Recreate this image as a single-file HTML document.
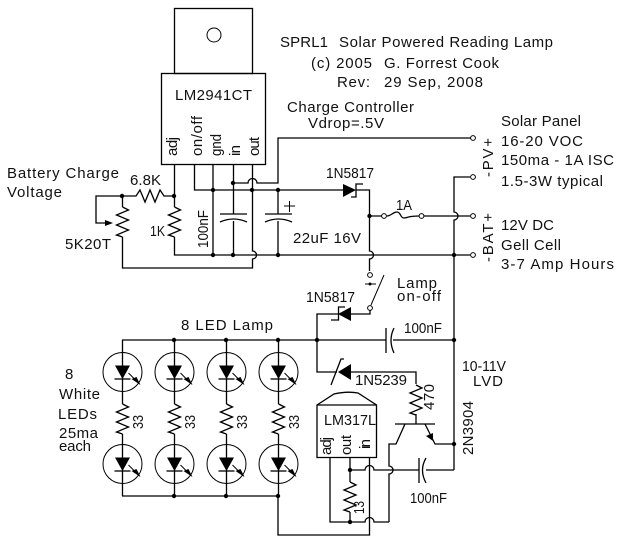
<!DOCTYPE html>
<html><head><meta charset="utf-8"><style>
html,body{margin:0;padding:0;background:#fff}
svg{display:block}
text{font-family:"Liberation Sans",sans-serif;font-size:15px;fill:#111}
.w{fill:none;stroke:#000;stroke-width:1.3}
.n{fill:none;stroke:#000;stroke-width:1}
</style></head><body>
<svg width="623" height="542" viewBox="0 0 623 542" xmlns="http://www.w3.org/2000/svg">
<defs>
<path id="rv" class="w" d="M0 0l6 3l-12 5l12 5l-12 5l12 5l-12 5l6 2"/>
<circle id="d" r="2.2" fill="#000"/>
<circle id="t" r="2.4" fill="#fff" stroke="#000" stroke-width="1"/>
<g id="led">
<circle class="n" r="19.5"/>
<path d="M-7.500 -6.500H7.500L0 7Z" fill="#000"/>
<path class="w" d="M-8 7H8"/>
<path class="n" d="M6 1L17 12"/>
<path d="M9 7L14 5L18 13Z" fill="#000"/>
</g>
</defs>

<!-- LM2941 -->
<rect class="w" x="174.500" y="8.500" width="78" height="65"/>
<circle class="n" cx="214" cy="35" r="7"/>
<rect class="w" x="161.500" y="73.500" width="104" height="91"/>

<!-- charge controller wiring -->
<path class="w" d="M174.500 165V207M174.500 237V255H470"/>
<use href="#rv" x="174.500" y="207"/>
<path class="w" d="M194.500 165V190H343M356 190H369.500V251a4 4 0 0 1 0 8V271"/>
<path class="w" d="M213 165V255"/>
<path class="w" d="M233.500 165V214M233.500 221V255"/>
<path class="w" d="M233 183H248a4.500 4.500 0 0 1 9 0H278V138H471"/>
<path class="w" d="M252.500 165V251a4 4 0 0 1 0 8V268H122.500V237"/>
<path class="w" d="M122.500 196V207"/>
<use href="#rv" x="122.500" y="207"/>
<path class="w" d="M174 196H164l-4 -6l-5 12l-5 -12l-5 12l-5 -12l-4 6H96V223H106"/>
<path d="M105 220L113 223L105 226Z" fill="#000"/>
<path class="w" d="M278 190V214M278 221V255"/>
<!-- caps -->
<path d="M220 214H247" class="w"/><path d="M220 222Q233.500 216 247 222" class="w"/>
<path d="M265 214H292" class="w"/><path d="M265 222Q278.500 216 292 222" class="w"/>
<path class="n" d="M284 206H295M289.500 201V212"/>
<!-- diode -->
<path d="M343 184V197L356 190Z" fill="#000"/>
<path class="w" d="M351 197H356V184H363"/>
<!-- fuse & terminals -->
<path class="w" d="M369.500 216H383M387 216c4 0 6 -4 10 -4c4 0 3 6 7 6c4 0 3 -2 15 -2M424 216H470"/>
<path class="w" d="M470 177H454V212a4 4 0 0 1 0 8V470"/>
<use href="#t" x="384" y="216"/><use href="#t" x="421.500" y="216"/>
<use href="#t" x="473" y="138"/><use href="#t" x="473" y="177"/><use href="#t" x="473" y="216"/><use href="#t" x="473" y="255"/>
<!-- switch -->
<use href="#t" x="370" y="275"/><use href="#t" x="370" y="308"/>
<path class="n" d="M371 305L384 275"/>
<path class="n" d="M365 284H376"/>
<circle cx="370" cy="284" r="1.500" fill="#000"/>
<!-- lower diode -->
<path class="w" d="M370 310V314H350M338 314H317V372H337M350 372H416V384M416 414V424"/>
<path d="M351 307V321L338 314Z" fill="#000"/>
<path class="w" d="M345 307H338.500V320H331"/>
<!-- zener -->
<path d="M351 364V380L338 372Z" fill="#000"/>
<path class="w" d="M344 359H341L331 385"/>
<use href="#rv" x="416" y="385"/>
<path class="w" d="M122 340H386M393 340H454"/>
<path class="w" d="M386 328V353"/>
<path class="w" d="M394 328Q388 340 394 353"/>
<!-- transistor -->
<path class="w" d="M395 424H435"/>
<path class="w" d="M405 424L396 444H389V466a4 4 0 0 1 0 8V522"/>
<path class="w" d="M425 424L435 444H454"/>
<path d="M426 436L433 433L433 441Z" fill="#000"/>
<!-- LM317 -->
<path class="w" d="M317 405L334 394Q347 391 358 393L376.500 405V457.500H317Z"/>
<path class="w" d="M317 405H376.500"/>
<path class="w" d="M330 458V522H365a4.500 4.500 0 0 1 9 0H389"/>
<path class="w" d="M350 458V482M350 512V522"/>
<use href="#rv" x="350" y="482"/>
<path class="w" d="M350 470H365a4.500 4.500 0 0 1 9 0H419"/>
<path class="w" d="M369.500 458V535H278V496"/>
<path class="w" d="M419 458V483"/>
<path class="w" d="M426 458Q419 470 426 483"/>
<path class="w" d="M426 470H454"/>
<!-- LED array -->
<g>
<path class="w" d="M122.500 340V404M122.500 434V496M174.500 340V404M174.500 434V496M226.500 340V404M226.500 434V496M278.500 340V404M278.500 434V496M122 496H278"/>
<use href="#rv" x="122.500" y="404"/><use href="#rv" x="174.500" y="404"/><use href="#rv" x="226.500" y="404"/><use href="#rv" x="278.500" y="404"/>
<use href="#led" x="122.500" y="372"/><use href="#led" x="174.500" y="372"/><use href="#led" x="226.500" y="372"/><use href="#led" x="278.500" y="372"/>
<use href="#led" x="122.500" y="464"/><use href="#led" x="174.500" y="464"/><use href="#led" x="226.500" y="464"/><use href="#led" x="278.500" y="464"/>
</g>
<!-- dots -->
<use href="#d" x="174" y="196"/><use href="#d" x="122" y="196"/>
<use href="#d" x="213" y="190"/><use href="#d" x="252" y="190"/><use href="#d" x="278" y="190"/>
<use href="#d" x="233" y="183"/>
<use href="#d" x="213" y="255"/><use href="#d" x="233" y="255"/><use href="#d" x="278" y="255"/>
<use href="#d" x="369.500" y="216"/><use href="#d" x="454" y="255"/>
<use href="#d" x="174" y="340"/><use href="#d" x="226" y="340"/><use href="#d" x="278" y="340"/>
<use href="#d" x="174" y="496"/><use href="#d" x="226" y="496"/><use href="#d" x="278" y="496"/>
<use href="#d" x="317" y="340"/><use href="#d" x="454" y="340"/><use href="#d" x="454" y="444"/>
<use href="#d" x="350" y="470"/><use href="#d" x="350" y="522"/>

<!-- text -->
<text x="7" y="178" textLength="112">Battery Charge</text>
<text x="7" y="197" textLength="55">Voltage</text>
<text x="130" y="185" textLength="31">6.8K</text>
<text x="65" y="249" textLength="46">5K20T</text>
<text x="150" y="236" textLength="15" lengthAdjust="spacingAndGlyphs">1K</text>
<text x="175" y="100" textLength="77">LM2941CT</text>
<text transform="translate(177 156) rotate(-90)" textLength="19">adj</text>
<text transform="translate(202 156) rotate(-90)" textLength="40">on/off</text>
<text transform="translate(221 156) rotate(-90)" textLength="22" lengthAdjust="spacingAndGlyphs">gnd</text>
<text transform="translate(240 156) rotate(-90)" textLength="11">in</text>
<text transform="translate(259 156) rotate(-90)" textLength="19">out</text>
<text transform="translate(208 248) rotate(-90)" textLength="38" lengthAdjust="spacingAndGlyphs">100nF</text>
<text x="293" y="243" textLength="68">22uF 16V</text>
<text x="280" y="47" textLength="48">SPRL1</text>
<text x="339" y="47" textLength="214">Solar Powered Reading Lamp</text>
<text x="311" y="68" textLength="61">(c) 2005</text>
<text x="384" y="68" textLength="115">G. Forrest Cook</text>
<text x="337" y="87" textLength="33">Rev:</text>
<text x="384" y="87" textLength="99">29 Sep, 2008</text>
<text x="287" y="112" textLength="127">Charge Controller</text>
<text x="308" y="128" textLength="76">Vdrop=.5V</text>
<text x="501" y="126" textLength="80">Solar Panel</text>
<text x="501" y="146" textLength="82">16-20 VOC</text>
<text x="501" y="165" textLength="113">150ma - 1A ISC</text>
<text x="501" y="186" textLength="102">1.5-3W typical</text>
<text x="501" y="230" textLength="53">12V DC</text>
<text x="501" y="250" textLength="60">Gell Cell</text>
<text x="501" y="269" textLength="113">3-7 Amp Hours</text>
<text x="326" y="178" textLength="48" lengthAdjust="spacingAndGlyphs">1N5817</text>
<text x="396" y="210" textLength="16" lengthAdjust="spacingAndGlyphs">1A</text>
<text transform="translate(493 177) rotate(-90)" textLength="39">-PV+</text>
<text transform="translate(493 262) rotate(-90)" textLength="49">-BAT+</text>
<text x="397" y="288" textLength="40">Lamp</text>
<text x="397" y="301" textLength="44">on-off</text>
<text x="306" y="302" textLength="49" lengthAdjust="spacingAndGlyphs">1N5817</text>
<text x="404" y="333" textLength="38" lengthAdjust="spacingAndGlyphs">100nF</text>
<text x="462" y="371" textLength="44" lengthAdjust="spacingAndGlyphs">10-11V</text>
<text x="473" y="386" textLength="30">LVD</text>
<text x="355" y="385" textLength="52">1N5239</text>
<text transform="translate(434 410) rotate(-90)" textLength="26">470</text>
<text x="324" y="425" textLength="52" lengthAdjust="spacingAndGlyphs">LM317L</text>
<text transform="translate(331 455) rotate(-90)" textLength="18">adj</text>
<text transform="translate(351 455) rotate(-90)" textLength="20">out</text>
<text transform="translate(370 449) rotate(-90)" textLength="10">in</text>
<text transform="translate(473 455) rotate(-90)" textLength="54">2N3904</text>
<text x="410" y="503" textLength="37" lengthAdjust="spacingAndGlyphs">100nF</text>
<text transform="translate(364 514) rotate(-90)" textLength="13" lengthAdjust="spacingAndGlyphs">13</text>
<text x="181" y="330" textLength="92">8 LED Lamp</text>
<text x="65" y="379" textLength="9">8</text>
<text x="59" y="399" textLength="41">White</text>
<text x="58" y="419" textLength="39">LEDs</text>
<text x="59" y="438" textLength="39">25ma</text>
<text x="59" y="451" textLength="32">each</text>
<text transform="translate(143 429) rotate(-90)" textLength="14" lengthAdjust="spacingAndGlyphs">33</text>
<text transform="translate(195 429) rotate(-90)" textLength="14" lengthAdjust="spacingAndGlyphs">33</text>
<text transform="translate(247 429) rotate(-90)" textLength="14" lengthAdjust="spacingAndGlyphs">33</text>
<text transform="translate(299 429) rotate(-90)" textLength="14" lengthAdjust="spacingAndGlyphs">33</text>
</svg>
</body></html>
